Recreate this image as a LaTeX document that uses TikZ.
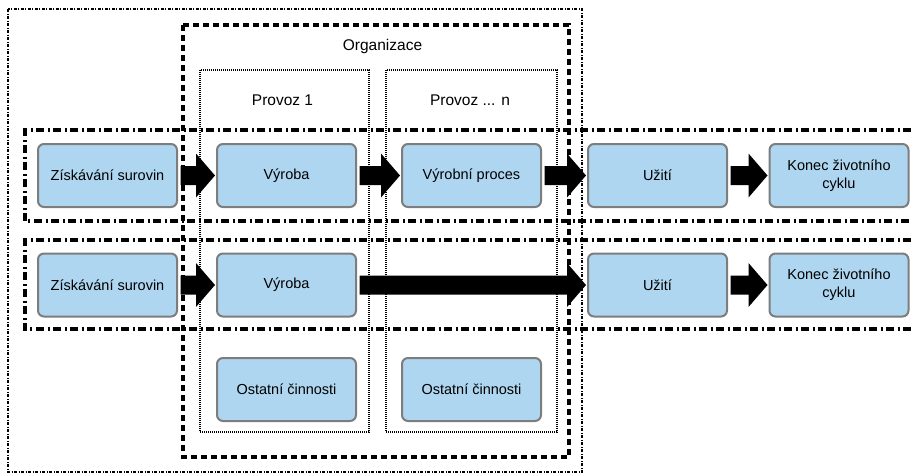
\documentclass[tikz,border=0pt]{standalone}
\usepackage{fontspec}
\setmainfont{Liberation Sans}
\usetikzlibrary{calc}
\definecolor{boxfill}{RGB}{174,214,240}
\definecolor{boxline}{RGB}{125,125,125}
\begin{document}
\begin{tikzpicture}[x=1pt,y=-1pt,
  stage/.style={draw=boxline, line width=2pt, fill=boxfill, rounded corners=6pt,
    minimum width=139pt, minimum height=63pt, align=center, inner sep=2pt,
    font=\fontsize{14.5}{18}\selectfont},
  % block arrow from the east side of one node to the west side of the next
  flow/.style={fill=black, to path={
    let \p1=(\tikztostart.east), \p2=(\tikztotarget.west) in
    (\x1+2.5pt,\y1+9.5pt) -- (\x2-20pt,\y1+9.5pt) -- (\x2-20pt,\y1+22pt)
    -- (\x2-1pt,\y1) -- (\x2-20pt,\y1-22pt) -- (\x2-20pt,\y1-9.5pt)
    -- (\x1+2.5pt,\y1-9.5pt) -- cycle}},
  lifeframe/.style={line width=1.4pt, dash pattern=on 3pt off 1.5pt on 1pt off 1.5pt},
  orgframe/.style={line width=3.2pt, dash pattern=on 6pt off 4pt},
  siteframe/.style={line width=2.6pt, dash pattern=on 1pt off 1pt},
  chainframe/.style={line width=3.5pt, dash pattern=on 8pt off 3.5pt on 2pt off 3.5pt},
  caption/.style={font=\fontsize{15.5}{18}\selectfont}
]
\useasboundingbox (0,0) rectangle (911,475);

% enclosing frames
\draw[lifeframe] (8,9) rectangle (582,472);
\draw[orgframe] (183,25) rectangle (569,457);
\draw[siteframe] (200,70) rectangle (369,432);
\draw[siteframe] (386,70) rectangle (557,432);
\draw[chainframe] (911,130) -- (25,130) -- (25,221) -- (911,221);
\draw[chainframe] (911,240) -- (25,240) -- (25,329) -- (911,329);

% captions
\node[caption] (org) at (382.5,46) {Organizace};
\node[caption] (p1) at (282.5,100) {Provoz 1};
\node[caption] (pn) at (470,100) {Provoz ... n};

% upper chain
\node[stage] (z1) at (107.5,175.5) {Získávání surovin};
\node[stage] (v1) at (286.5,175.5) {Výroba};
\node[stage] (vp) at (471.5,175.5) {Výrobní proces};
\node[stage] (u1) at (657.5,175.5) {Užití};
\node[stage] (k1) at (839,175.5) {Konec životního\\cyklu};

% lower chain
\node[stage] (z2) at (107.5,285) {Získávání surovin};
\node[stage] (v2) at (286.5,285) {Výroba};
\node[stage] (u2) at (657.5,285) {Užití};
\node[stage] (k2) at (839,285) {Konec životního\\cyklu};

% other activities
\node[stage] (o1) at (286.5,389.5) {Ostatní činnosti};
\node[stage] (o2) at (471.5,389.5) {Ostatní činnosti};

% flows
\path[flow] (z1) to (v1);
\path[flow] (v1) to (vp);
\path[flow] (vp) to (u1);
\path[flow] (u1) to (k1);
\path[flow] (z2) to (v2);
\path[flow] (v2) to (u2);
\path[flow] (u2) to (k2);
\end{tikzpicture}
\end{document}
